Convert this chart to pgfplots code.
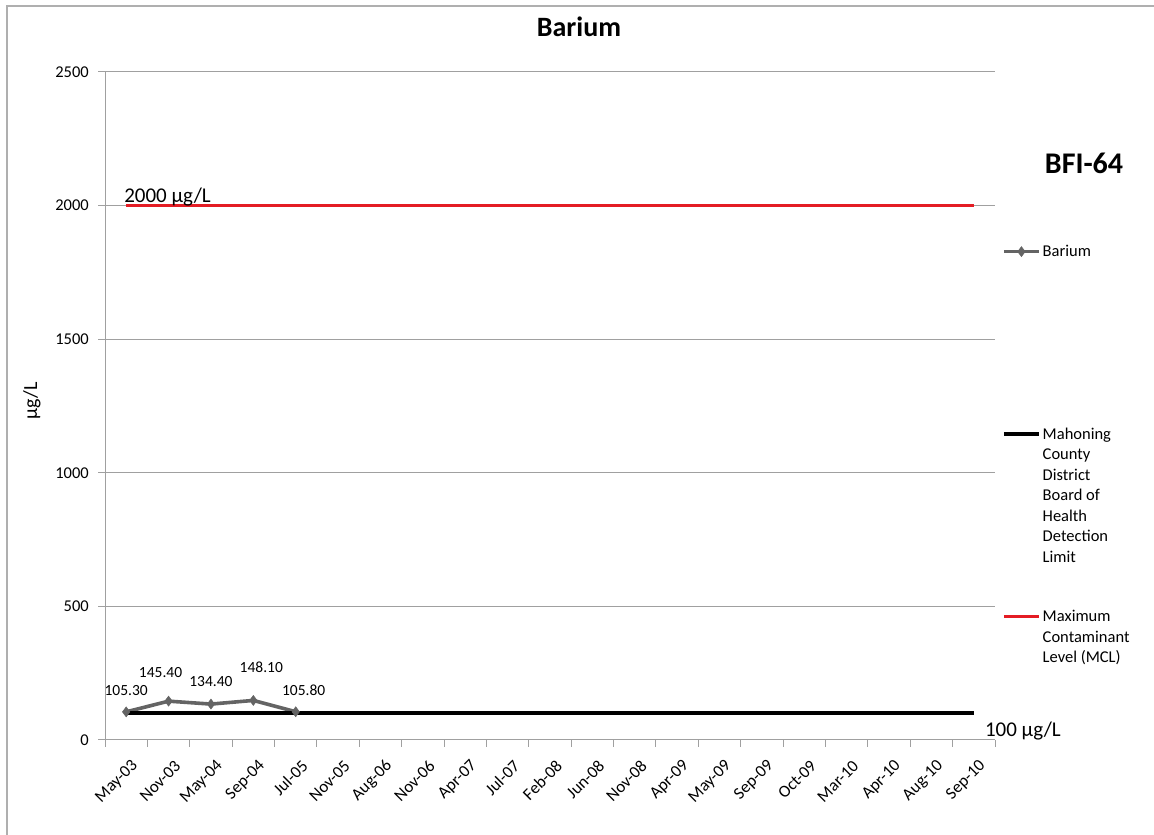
\documentclass[border=0pt]{standalone}
\usepackage{pgfplots}
\pgfplotsset{compat=1.18}
\usepackage{fontspec}
\setmainfont{Carlito}
\definecolor{barcol}{RGB}{100,100,100}
\definecolor{mclred}{RGB}{228,28,36}
\definecolor{gridgray}{RGB}{160,160,160}
\definecolor{framegray}{RGB}{175,175,175}
\newcommand{\legtxt}[1]{\raisebox{0pt}[12pt][4pt]{\parbox[t]{95pt}{\fontsize{16.5}{20.5}\selectfont #1}}}
\begin{document}
\begin{tikzpicture}[x=1pt,y=1pt]
\path[use as bounding box] (0pt,0pt) rectangle (1154pt,835pt);
\draw[framegray, line width=1.6pt] (7pt,0pt) -- (7pt,829pt) -- (1154pt,829pt);
\node[font=\bfseries\fontsize{28}{32}\selectfont, anchor=base] at (579pt,798pt) {Barium};
\node[font=\bfseries\fontsize{30}{34}\selectfont, anchor=base] at (1084pt,661pt) {BFI-64};
\node[font=\fontsize{20}{24}\selectfont, rotate=90] at (32pt,434pt) {µg/L};
\begin{axis}[
  at={(105pt,95pt)}, anchor=south west,
  scale only axis, width=890pt, height=668pt,
  xmin=-0.5, xmax=20.5, ymin=0, ymax=2500,
  axis lines=left, axis line style={-, gridgray, line width=1pt},
  ytick={0,500,1000,1500,2000,2500},
  ymajorgrids, grid style={gridgray, line width=1pt},
  xtick={0,...,20},
  xticklabels={May-03,Nov-03,May-04,Sep-04,Jul-05,Nov-05,Aug-06,Nov-06,Apr-07,Jul-07,Feb-08,Jun-08,Nov-08,Apr-09,May-09,Sep-09,Oct-09,Mar-10,Apr-10,Aug-10,Sep-10},
  minor xtick={-0.5,0.5,...,20.5},
  major x tick style={draw=none},
  minor x tick style={gridgray, line width=1pt},
  y tick style={gridgray, line width=1pt},
  tick align=outside, major tick length=7pt, minor tick length=7pt,
  xticklabel style={rotate=45, anchor=east, font=\fontsize{17}{20}\selectfont, inner sep=1pt, yshift=-18pt, xshift=-4pt},
  yticklabel style={font=\fontsize{16.5}{18}\selectfont, inner sep=0pt, xshift=-9pt},
  /pgf/number format/assume math mode=true,
  /pgf/number format/1000 sep={},
  scaled y ticks=false,
  clip=false,
  legend image code/.code={\draw[mark repeat=2,mark phase=2] plot coordinates {(0pt,0pt)(17.5pt,0pt)(35pt,0pt)};},
  legend style={at={(1.0078,0.7445)}, anchor=north west, draw=none, fill=none, inner sep=0pt, row sep=165pt, column sep=0pt},
  legend cell align=left,
]
\addplot[barcol, line width=3.6pt, mark=diamond*, mark size=5pt, mark options={fill=barcol, line width=0.5pt}]
  coordinates {(0,105.3) (1,145.4) (2,134.4) (3,148.1) (4,105.8)};
\addlegendentry{\legtxt{Barium}}
\addplot[black, line width=3.6pt] coordinates {(0,100) (20,100)};
\addlegendentry{\legtxt{Mahoning\\County\\District\\Board of\\Health\\Detection\\Limit}}
\addplot[mclred, line width=3.2pt] coordinates {(0,2000) (20,2000)};
\addlegendentry{\legtxt{Maximum\\Contaminant\\Level (MCL)}}
\begin{scope}[every node/.style={font=\fontsize{15.5}{18}\selectfont}]
\node at (axis cs:0,105.3) [yshift=21pt] {105.30};
\node at (axis cs:1,145.4) [yshift=29pt, xshift=-8pt] {145.40};
\node at (axis cs:2,134.4) [yshift=23pt] {134.40};
\node at (axis cs:3,148.1) [yshift=33pt, xshift=8pt] {148.10};
\node at (axis cs:4,105.8) [yshift=21pt, xshift=8pt] {105.80};
\end{scope}
\node[font=\fontsize{21}{24}\selectfont, anchor=base west, inner sep=0pt] at (axis cs:-0.05,2000) [yshift=3pt] {2000 µg/L};
\node[font=\fontsize{21}{24}\selectfont, anchor=west, inner sep=0pt] at (axis cs:20,100) [xshift=11pt, yshift=-18pt] {100 µg/L};
\end{axis}
\end{tikzpicture}
\end{document}
